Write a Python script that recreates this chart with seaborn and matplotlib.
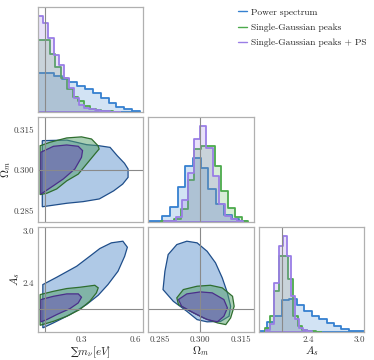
import pandas as pd
import seaborn as sns
import matplotlib.pyplot as plt

# ---- data ----
labels = ["Power spectrum", "Single-Gaussian peaks", "Single-Gaussian peaks + PS"]
fiducial = {"mnu": 0.1, "om": 0.3, "As": 2.1}

# 1D histograms: bin edges and normalised heights
mnu_edges_ps = [0.06, 0.1035, 0.147, 0.1905, 0.234, 0.2775, 0.321, 0.3645, 0.408, 0.4515, 0.495, 0.5385, 0.582, 0.6255]
mnu_heights_ps = [0.37, 0.37, 0.34, 0.31, 0.28, 0.245, 0.22, 0.176, 0.135, 0.088, 0.05, 0.025, 0.01]
mnu_edges_peaks = [0.06, 0.092, 0.124, 0.156, 0.188, 0.22, 0.252, 0.284, 0.316, 0.348, 0.38, 0.412, 0.444, 0.476, 0.508]
mnu_heights_peaks = [0.685, 0.685, 0.55, 0.43, 0.32, 0.22, 0.14, 0.10, 0.055, 0.03, 0.015, 0.008, 0.004, 0.002]
mnu_edges_comb = [0.06, 0.0885, 0.117, 0.1455, 0.174, 0.2025, 0.231, 0.2595, 0.288, 0.3165, 0.345, 0.3735, 0.402, 0.4305, 0.459, 0.4875, 0.516]
mnu_heights_comb = [0.91, 0.85, 0.70, 0.54, 0.45, 0.32, 0.23, 0.135, 0.063, 0.04, 0.025, 0.016, 0.01, 0.006, 0.003, 0.002]

om_edges_ps = [0.2802, 0.2831, 0.2859, 0.2888, 0.2916, 0.2945, 0.2973, 0.3002, 0.3030, 0.3059, 0.3087, 0.3116, 0.3144, 0.3173]
om_heights_ps = [0.013, 0.013, 0.054, 0.14, 0.33, 0.53, 0.61, 0.51, 0.31, 0.17, 0.07, 0.03, 0.013]
om_edges_peaks = [0.2853, 0.2878, 0.2903, 0.2928, 0.2953, 0.2978, 0.3003, 0.3028, 0.3053, 0.3078, 0.3103, 0.3128, 0.3153, 0.3178]
om_heights_peaks = [0.005, 0.012, 0.03, 0.12, 0.40, 0.69, 0.72, 0.72, 0.53, 0.29, 0.13, 0.05, 0.013]
om_edges_comb = [0.2865, 0.28875, 0.291, 0.29325, 0.2955, 0.29775, 0.3, 0.30225, 0.3045, 0.30675, 0.309, 0.31125, 0.3135, 0.31575]
om_heights_comb = [0.005, 0.012, 0.05, 0.21, 0.47, 0.79, 0.91, 0.70, 0.44, 0.17, 0.06, 0.025, 0.01]

as_edges_ps = [1.838, 1.9245, 2.011, 2.0975, 2.184, 2.2705, 2.357, 2.4435, 2.53, 2.6165, 2.703, 2.7895, 2.876, 2.9625, 3.049]
as_heights_ps = [0.01, 0.09, 0.15, 0.30, 0.31, 0.26, 0.20, 0.15, 0.12, 0.085, 0.057, 0.03, 0.01, 0.005]
as_edges_peaks = [1.904, 1.958, 2.012, 2.066, 2.12, 2.174, 2.228, 2.282, 2.336, 2.39, 2.444, 2.498, 2.552]
as_heights_peaks = [0.04, 0.15, 0.39, 0.72, 0.72, 0.50, 0.15, 0.055, 0.02, 0.01, 0.005, 0.003]
as_edges_comb = [1.916, 1.964, 2.012, 2.06, 2.108, 2.156, 2.204, 2.252, 2.3, 2.348, 2.396, 2.444]
as_heights_comb = [0.02, 0.08, 0.47, 0.82, 0.915, 0.72, 0.34, 0.12, 0.04, 0.015, 0.005]

# 2D contour outlines (data coordinates)
mnu_om_ps = ([0.083, 0.22, 0.33, 0.40, 0.46, 0.50, 0.54, 0.56, 0.56, 0.53, 0.48, 0.40, 0.31, 0.22, 0.083],
             [0.3109, 0.3111, 0.3094, 0.3090, 0.3084, 0.3053, 0.3025, 0.3004, 0.2973, 0.2948, 0.2923, 0.2893, 0.2883, 0.2877, 0.2864])
mnu_om_peaks = ([0.071, 0.126, 0.219, 0.301, 0.357, 0.393, 0.399, 0.375, 0.329, 0.283, 0.219, 0.163, 0.108, 0.071],
                [0.3090, 0.3103, 0.3119, 0.3123, 0.3115, 0.3090, 0.3078, 0.3059, 0.3022, 0.2985, 0.2960, 0.2930, 0.2914, 0.2909])
mnu_om_comb = ([0.075, 0.145, 0.219, 0.283, 0.307, 0.301, 0.264, 0.200, 0.145, 0.089, 0.075],
               [0.3066, 0.3088, 0.3093, 0.3088, 0.3072, 0.3047, 0.3004, 0.2967, 0.2942, 0.2917, 0.2911])

mnu_as_ps = ([0.086, 0.163, 0.274, 0.347, 0.403, 0.467, 0.531, 0.556, 0.541, 0.504, 0.448, 0.394, 0.329, 0.237, 0.145, 0.086],
             [2.380, 2.465, 2.593, 2.709, 2.799, 2.865, 2.884, 2.814, 2.709, 2.535, 2.380, 2.256, 2.148, 2.031, 1.935, 1.877])
mnu_as_peaks = ([0.071, 0.145, 0.219, 0.292, 0.375, 0.394, 0.384, 0.347, 0.292, 0.219, 0.145, 0.071],
                [2.264, 2.302, 2.334, 2.349, 2.372, 2.342, 2.284, 2.186, 2.090, 2.012, 1.953, 1.907])
mnu_as_comb = ([0.075, 0.145, 0.219, 0.283, 0.301, 0.283, 0.237, 0.163, 0.108, 0.075],
               [2.206, 2.244, 2.272, 2.272, 2.233, 2.167, 2.101, 2.031, 1.973, 1.947])

om_as_ps = ([0.2862, 0.2869, 0.2881, 0.2913, 0.2950, 0.2988, 0.3025, 0.3056, 0.3081, 0.3100, 0.3112, 0.3106, 0.3075, 0.3025, 0.2988, 0.2950, 0.2900],
            [2.322, 2.535, 2.729, 2.845, 2.884, 2.865, 2.767, 2.633, 2.458, 2.284, 2.128, 2.012, 1.953, 1.947, 1.973, 2.070, 2.186])
om_as_peaks = ([0.2913, 0.2937, 0.2988, 0.3037, 0.3081, 0.3119, 0.3125, 0.3112, 0.3094, 0.3063, 0.3012, 0.2963, 0.2919],
               [2.226, 2.322, 2.361, 2.372, 2.342, 2.244, 2.128, 1.993, 1.915, 1.935, 1.993, 2.070, 2.148])
om_as_comb = ([0.2919, 0.2950, 0.3000, 0.3044, 0.3087, 0.3100, 0.3087, 0.3063, 0.3025, 0.2975, 0.2931],
              [2.206, 2.272, 2.295, 2.284, 2.206, 2.109, 2.012, 1.947, 1.973, 2.051, 2.128])

# ---- styling ----
sns.set_style("white")
plt.rcParams["font.family"] = ["cmr10", "DejaVu Serif"]
plt.rcParams["mathtext.fontset"] = "cm"
plt.rcParams["axes.formatter.use_mathtext"] = True

hist_colors = ["#3580d0", "#4caa4c", "#9a7ee6"]
fill_colors = ["#8db3dc", "#55a06a", "#6a55b5"]
fill_alpha = [0.7, 0.5, 0.55]
edge_colors = ["#1f4e8a", "#2f6e2f", "#4a2f8a"]
spine_col = "#b0b0b0"
fid_col = "#8a8a8a"

lims = {"mnu": (0.06, 0.645), "om": (0.2808, 0.3197), "As": (1.83, 3.05)}
ticks = {"mnu": [0.3, 0.6], "om": [0.285, 0.300, 0.315], "As": [2.4, 3.0]}
ticklabels = {"mnu": ["0.3", "0.6"], "om": ["0.285", "0.300", "0.315"], "As": ["2.4", "3.0"]}
names = {"mnu": "\u2211" + r"$m_\nu[eV]$", "om": r"$\Omega_m$", "As": r"$A_s$"}
params = ["mnu", "om", "As"]

hists = {
    "mnu": [(mnu_edges_ps, mnu_heights_ps), (mnu_edges_peaks, mnu_heights_peaks), (mnu_edges_comb, mnu_heights_comb)],
    "om": [(om_edges_ps, om_heights_ps), (om_edges_peaks, om_heights_peaks), (om_edges_comb, om_heights_comb)],
    "As": [(as_edges_ps, as_heights_ps), (as_edges_peaks, as_heights_peaks), (as_edges_comb, as_heights_comb)],
}
contours = {
    ("om", "mnu"): [mnu_om_ps, mnu_om_peaks, mnu_om_comb],
    ("As", "mnu"): [mnu_as_ps, mnu_as_peaks, mnu_as_comb],
    ("As", "om"): [om_as_ps, om_as_peaks, om_as_comb],
}

fig, axes = plt.subplots(3, 3, figsize=(3.74, 3.6), dpi=100)
fig.subplots_adjust(left=0.102, right=0.973, bottom=0.078, top=0.981, wspace=0.048, hspace=0.048)

for i, py in enumerate(params):
    for j, px in enumerate(params):
        ax = axes[i, j]
        if j > i:
            ax.axis("off")
            continue
        for s in ax.spines.values():
            s.set_color(spine_col)
            s.set_linewidth(0.9)
        ax.tick_params(labelsize=6.5, colors="#444444", length=2, width=0.6, color=spine_col, pad=1)
        if i == j:
            for k in range(3):
                edges, h = hists[px][k]
                centers = [0.5 * (a + b) for a, b in zip(edges[:-1], edges[1:])]
                df = pd.DataFrame({"x": centers, "w": h})
                sns.histplot(data=df, x="x", weights="w", bins=list(edges), element="step", fill=True,
                             color=hist_colors[k], alpha=0.22, linewidth=1.3, ax=ax)
            ax.axvline(fiducial[px], color=fid_col, lw=0.8)
            ax.set_ylim(0, 1.0)
            ax.set_yticks([])
            ax.set_ylabel("")
        else:
            for k in range(3):
                xs, ys = contours[(py, px)][k]
                ax.fill(xs, ys, facecolor=fill_colors[k], alpha=fill_alpha[k], edgecolor="none")
                ax.fill(xs, ys, facecolor="none", edgecolor=edge_colors[k], lw=0.9)
            ax.axvline(fiducial[px], color=fid_col, lw=0.8)
            ax.axhline(fiducial[py], color=fid_col, lw=0.8)
            ax.set_ylim(*lims[py])
            if j == 0:
                ax.set_yticks(ticks[py])
                ax.set_yticklabels(ticklabels[py])
                ax.set_ylabel(names[py], fontsize=8, labelpad=0)
            else:
                ax.set_yticks([])
        ax.set_xlim(*lims[px])
        if i == 2:
            ax.set_xticks(ticks[px])
            ax.set_xticklabels(ticklabels[px])
            if px == "mnu":
                # the sum sign comes from DejaVu Serif, cmr10 has no glyph for it
                ax.set_xlabel(names[px], fontsize=8, labelpad=0, family=["DejaVu Serif"])
            else:
                ax.set_xlabel(names[px], fontsize=8, labelpad=0)
        else:
            ax.set_xticks([])
            ax.set_xlabel("")

handles = [plt.Line2D([], [], color=hist_colors[k], lw=1.0) for k in range(3)]
fig.legend(handles, labels, loc="upper left", bbox_to_anchor=(238 / 374, 1 - 8 / 360), frameon=False,
           fontsize=6.8, handlelength=1.0, handletextpad=0.4, labelspacing=0.7,
           borderpad=0, borderaxespad=0)

fig.savefig("out.png", dpi=100)
